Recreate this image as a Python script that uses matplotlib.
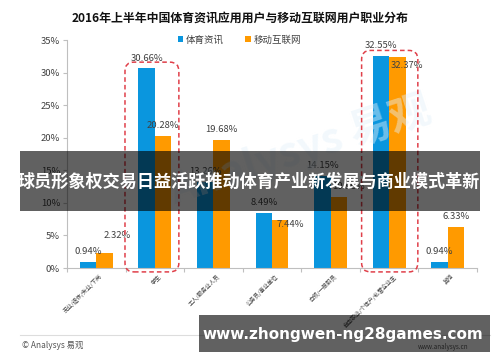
import matplotlib
matplotlib.use("Agg")
import matplotlib.pyplot as plt
from matplotlib.patches import FancyBboxPatch, Rectangle
from matplotlib.transforms import IdentityTransform
import numpy as np

plt.rcParams['font.family'] = ['Noto Sans CJK SC', 'DejaVu Sans']

title = "2016年上半年中国体育资讯应用用户与移动互联网用户职业分布"
categories = ["无业/退休/失业/下岗", "学生", "工人/服务业人员", "公务员/事业单位",
              "白领/一般职员", "自由职业/个体户/私营企业主", "其他"]
series_names = ["体育资讯", "移动互联网"]
sports = [0.94, 30.66, 13.26, 8.49, 14.15, 32.55, 0.94]
mobile = [2.32, 20.28, 19.68, 7.44, 10.96, 32.37, 6.33]
yticks = [0, 5, 10, 15, 20, 25, 30, 35]
banner_text = "球员形象权交易日益活跃推动体育产业新发展与商业模式革新"
url_text = "www.zhongwen-ng28games.com"

BLUE = "#0A96DE"
ORANGE = "#FF9A00"
GRAY = "#BFBFBF"
TXT = "#404040"

W, H = 500, 362
fig = plt.figure(figsize=(5, 3.62), dpi=100)
ax = fig.add_axes([67 / W, 1 - 268 / H, 410 / W, 228 / H])

x = np.arange(len(categories))
bw = 0.28
b1 = ax.bar(x - bw / 2, sports, bw, color=BLUE, label=series_names[0], zorder=2)
b2 = ax.bar(x + bw / 2, mobile, bw, color=ORANGE, label=series_names[1], zorder=2)

ax.set_xlim(-0.5, len(categories) - 0.5)
ax.set_ylim(0, 35)
ax.set_yticks(yticks)
ax.set_yticklabels([f"{v}%" for v in yticks], fontsize=6.8, color=TXT)
ax.set_xticks(np.arange(len(categories) + 1) - 0.5, minor=False)
ax.set_xticklabels([])
ax.tick_params(axis='x', length=3, color=GRAY, direction='out')
ax.tick_params(axis='y', length=3, color=GRAY, direction='out', pad=2)
for s in ['top', 'right']:
    ax.spines[s].set_visible(False)
ax.spines['left'].set_color(GRAY)
ax.spines['bottom'].set_color(GRAY)
ax.spines['left'].set_linewidth(0.8)
ax.spines['bottom'].set_linewidth(0.8)

for i, c in enumerate(categories):
    ax.text(i + 0.05, -0.8, c, rotation=45, ha='right', va='top',
            rotation_mode='anchor', fontsize=4.1, color=TXT)

# value labels (offsets in points: dx, dy)
off_b = [(0, 4), (0, 4), (0, 4), (0, 4), (0, 4), (0, 4), (0, 4)]
off_o = [(9, 9), (0, 4), (0, 4), (7, -7), (7, 4), (7, -9), (0, 4)]
for i in range(len(categories)):
    ax.annotate(f"{sports[i]:.2f}%", (x[i] - bw / 2, sports[i]), xytext=off_b[i],
                textcoords='offset points', ha='center', va='bottom',
                fontsize=6.8, color=TXT, zorder=4)
    ax.annotate(f"{mobile[i]:.2f}%", (x[i] + bw / 2, mobile[i]), xytext=off_o[i],
                textcoords='offset points', ha='center', va='bottom',
                fontsize=6.8, color=TXT, zorder=4)

leg = ax.legend(loc='center', bbox_to_anchor=(0.42, 1.0), ncol=2, frameon=False,
                fontsize=6.8, handlelength=0.6, handleheight=0.6, handletextpad=0.3,
                columnspacing=2.2, borderaxespad=0)
for t in leg.get_texts():
    t.set_color(TXT)

fig.text(240 / W, 1 - 18 / H, title, ha='center', va='center', fontsize=8.6,
         fontweight='bold', color='#111111')

# watermark
fig.text(300 / W, 1 - 150 / H, "Analysys 易观", fontsize=30, color='#e4f1fa',
         rotation=18, ha='center', va='center', alpha=0.45, zorder=0, fontweight='bold')

# red dashed highlight boxes (pixel coordinates)
fig.canvas.draw()
def px(xd, yd):
    return ax.transData.transform((xd, yd))
for (xa, xb, ytop) in [(0.49, 1.41, 31.6), (4.53, 5.49, 33.4)]:
    p0 = px(xa, -0.6)
    p1 = px(xb, ytop)
    box = FancyBboxPatch((p0[0], p0[1]), p1[0] - p0[0], p1[1] - p0[1],
                         boxstyle="round,pad=0,rounding_size=9",
                         transform=IdentityTransform(), fill=False,
                         edgecolor='#E0404A', linestyle=(0, (3, 2)), linewidth=1.1,
                         zorder=5)
    fig.patches.append(box)

# footer
fig.add_artist(plt.Line2D([20 / W, 490 / W], [1 - 335 / H, 1 - 335 / H],
                          color='#dddddd', linewidth=0.8, transform=fig.transFigure))
fig.text(22 / W, 1 - 346 / H, "© Analysys 易观", fontsize=6, color='#555555',
         ha='left', va='center')
fig.text(443 / W, 1 - 347 / H, "www.analysys.cn", fontsize=4.5, color='#222222',
         ha='center', va='center', zorder=12)

# overlay banners
fig.patches.append(Rectangle((20 / W, 1 - 211 / H), 460 / W, 60 / H,
                             transform=fig.transFigure, facecolor='black',
                             alpha=0.62, edgecolor='none', zorder=10))
fig.text(249 / W, 1 - 182 / H, banner_text, fontsize=12.3, fontweight='bold',
         color='white', ha='center', va='center', zorder=11)
fig.patches.append(Rectangle((199 / W, 1 - 352 / H), 291 / W, 37 / H,
                             transform=fig.transFigure, facecolor='black',
                             alpha=0.62, edgecolor='none', zorder=10))
fig.text(343 / W, 1 - 335 / H, url_text, fontsize=11, fontweight='bold',
         color='white', ha='center', va='center', zorder=11,
         family=['DejaVu Sans'])

fig.savefig("out.png", dpi=100)
